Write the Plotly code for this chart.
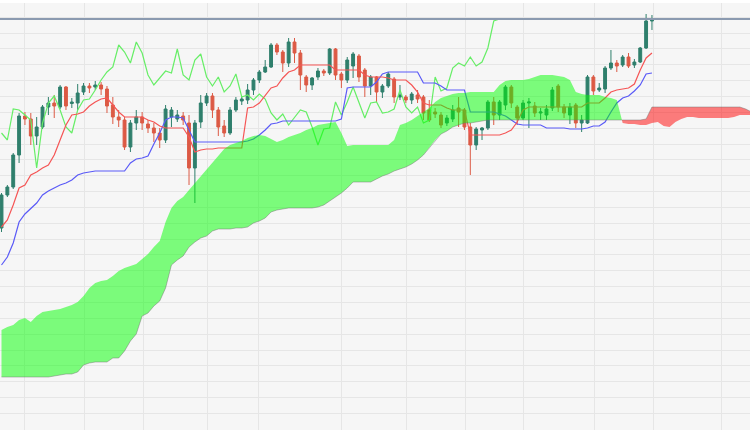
import plotly.graph_objects as go

# ---------------- data (price units) ----------------
idx = list(range(112))

opens = [127.2,130.5,131.3,134.5,138.4,138.1,136.4,137.3,139.3,139.7,
139.3,141.3,139.65,139.7,140.8,141.4,141.3,141.5,141.1,139.5,
138.3,138.0,135.3,137.7,138.3,137.6,137.2,136.7,136.0,138.3,
138.1,138.4,137.7,133.2,137.8,139.7,140.4,139.0,137.4,136.7,
139.0,139.9,140.0,141.0,142.0,142.8,143.3,145.5,144.8,143.7,
145.8,144.7,142.3,141.5,142.3,142.9,142.7,145.1,142.6,142.0,
143.4,144.4,143.0,141.4,142.3,140.8,141.4,142.1,140.3,140.3,
140.0,140.5,140.3,139.0,138.8,138.5,137.7,138.1,139.2,139.0,
137.3,135.5,137.0,137.2,139.8,138.5,139.5,141.3,139.3,138.2,
139.7,139.4,138.7,138.5,139.2,141.4,139.3,138.5,139.5,137.7,
137.7,142.3,141.0,141.1,143.2,143.7,143.5,144.3,143.5,143.8,
145.2,147.9]

highs = [130.7,131.5,134.7,138.7,138.8,138.7,138.3,139.5,140.3,140.5,
141.5,141.4,140.2,141.6,141.7,141.7,141.9,141.8,141.4,140.3,
139.0,138.3,138.0,139.0,138.8,138.0,137.7,137.2,139.5,139.3,
139.0,138.8,138.5,138.0,140.5,140.7,140.7,139.3,138.0,139.3,
140.3,140.4,141.6,142.2,143.0,144.0,145.7,145.7,145.0,146.2,
146.2,145.0,142.5,142.3,143.2,143.1,145.2,145.2,142.8,144.3,
144.8,144.6,143.2,142.5,142.4,141.6,142.8,142.3,141.5,140.5,
140.8,141.0,140.5,140.0,139.2,138.8,138.5,139.5,140.3,139.2,
137.7,137.3,137.3,140.0,140.3,140.0,141.5,141.5,139.5,140.0,
140.2,139.8,139.2,139.5,141.3,141.6,139.6,139.7,139.7,138.5,
142.5,142.5,141.7,143.4,145.0,144.0,144.5,144.7,144.1,145.3,
148.6,148.5]

lows = [126.8,130.3,131.1,133.7,137.5,135.5,135.5,137.1,138.5,138.2,
139.1,139.0,139.2,139.0,140.5,140.7,141.0,140.5,138.7,137.6,
137.3,135.0,134.8,137.0,137.0,136.7,135.8,135.2,135.7,137.3,
137.8,137.5,131.5,129.7,137.2,139.4,138.2,136.4,136.3,136.5,
138.8,139.5,139.6,140.5,141.7,142.7,143.2,144.5,142.8,143.3,
143.7,141.0,140.8,141.0,142.0,142.4,142.5,142.0,141.2,141.7,
142.2,141.8,140.3,140.5,139.8,140.2,141.2,139.7,140.0,139.7,
139.6,139.7,138.0,137.8,138.2,137.2,137.4,137.8,137.3,137.0,
132.5,135.0,136.0,137.0,137.5,138.0,139.0,139.2,137.5,138.0,
137.2,138.3,138.0,138.0,138.9,138.8,138.2,137.6,137.2,136.8,
137.6,140.5,140.8,140.7,143.0,142.8,143.3,143.2,143.2,143.7,
145.1,147.0]

closes = [130.5,131.3,134.5,138.4,138.1,136.4,137.3,139.3,139.7,139.4,
141.3,139.4,139.8,140.7,141.4,141.2,141.5,141.1,139.4,138.3,
138.0,135.3,137.7,138.3,137.7,137.2,136.7,136.0,139.1,139.0,
138.5,138.0,133.2,137.7,139.7,140.4,139.0,137.3,136.7,139.0,
140.0,140.1,141.0,142.0,142.8,143.3,145.5,144.8,143.7,145.8,
144.7,142.5,141.5,142.2,142.9,142.7,145.1,142.5,142.0,144.0,
144.6,142.3,141.4,142.3,140.8,141.4,142.6,140.3,140.5,140.0,
140.6,140.1,138.7,138.0,138.6,137.5,138.2,139.0,138.8,137.3,
135.5,137.1,137.2,139.8,138.5,139.8,141.3,139.7,138.2,139.7,
139.8,138.7,138.8,139.1,141.0,139.3,138.7,139.3,137.7,138.0,
142.3,140.9,141.2,143.2,143.7,143.4,144.3,143.4,143.8,145.2,
147.9,148.1]

tenkan = [127.3,128.0,129.5,131.2,131.5,132.5,132.8,133.2,133.5,134.5,
136.0,137.5,138.5,138.6,138.8,139.4,139.8,140.1,140.2,139.5,
138.8,138.3,138.3,138.3,138.3,138.0,137.8,137.4,137.2,137.2,
137.2,137.2,136.3,134.8,135.0,135.1,135.1,135.2,135.2,135.2,
135.2,135.2,139.2,139.3,139.7,140.4,141.2,141.4,142.2,142.8,
143.0,143.5,143.5,143.5,143.5,143.5,143.5,143.0,143.0,143.0,
143.0,143.0,142.5,142.3,142.3,142.3,142.2,142.0,142.0,142.0,
141.5,140.8,139.7,139.5,139.5,139.5,139.2,139.0,139.0,139.0,
136.5,136.5,136.5,136.5,136.5,136.5,136.7,137.0,137.8,139.0,
139.3,139.3,139.3,139.3,139.3,139.3,139.3,139.3,139.3,139.3,
139.7,139.7,139.7,140.2,140.8,141.0,141.1,141.2,141.6,143.0,
144.2,144.7]

kijun = [123.5,124.3,125.7,127.8,128.6,129.2,129.7,130.5,130.9,131.2,
131.5,131.7,132.0,132.5,132.7,132.8,132.9,132.9,132.9,132.9,
132.9,132.9,133.7,134.1,134.2,134.4,135.6,136.7,138.0,138.3,
138.3,138.2,137.0,135.8,135.8,135.8,135.8,135.8,135.8,135.8,
135.8,135.8,135.9,136.1,136.5,137.0,137.6,137.7,137.9,137.9,
137.9,137.9,137.9,137.9,137.9,137.9,137.9,137.9,138.1,141.2,
141.3,141.3,141.3,141.3,141.8,142.6,142.8,142.8,142.8,142.8,
142.8,142.8,141.7,141.7,141.7,141.4,141.0,141.0,141.0,141.0,
138.8,138.8,138.8,138.8,138.8,138.6,138.4,138.0,137.6,137.5,
137.5,137.5,137.5,137.2,137.2,137.2,137.2,137.1,137.1,137.1,
137.2,137.4,137.4,137.8,138.8,139.7,140.2,140.4,140.9,141.5,
142.6,142.7]

cloud_idx = list(range(129))

span_a = [117.0,117.3,117.5,118.0,118.2,117.8,118.4,118.8,118.9,119.0,
119.1,119.3,119.5,119.8,120.4,121.2,121.7,121.9,122.0,122.4,
122.9,123.2,123.4,123.6,124.1,124.6,125.3,125.9,127.8,129.2,
129.9,130.3,131.0,131.7,132.3,133.0,133.7,134.4,135.1,135.5,
135.7,135.9,136.2,136.4,136.5,136.4,136.1,135.8,136.0,136.3,
136.5,136.7,137.0,137.2,137.5,137.6,137.7,137.8,136.7,135.4,
135.5,135.5,135.5,135.5,135.5,135.5,135.5,136.0,137.5,137.7,
138.0,138.4,138.8,139.2,139.8,140.2,140.4,140.6,140.7,140.7,
140.8,140.8,140.8,140.8,140.8,141.5,141.9,142.0,142.0,142.0,
142.1,142.3,142.5,142.5,142.5,142.4,142.3,142.0,140.8,140.6,
140.5,140.5,140.5,140.3,140.2,140.0,137.7,137.6,137.6,137.5,
137.5,137.7,137.8,137.4,137.3,137.8,138.1,138.3,138.3,138.2,
138.2,138.2,138.2,138.2,138.2,138.3,138.5,138.5,138.5]

span_b = [112.3,112.3,112.3,112.3,112.3,112.3,112.3,112.3,112.3,112.4,
112.5,112.6,112.6,112.8,113.5,113.7,113.8,113.8,113.8,114.2,
114.2,114.9,115.9,116.6,118.4,118.7,119.4,119.9,121.2,123.5,
124.0,124.4,125.3,125.8,126.2,126.4,126.9,127.1,127.1,127.1,
127.2,127.2,127.3,127.7,127.9,128.2,128.8,129.0,129.1,129.2,
129.2,129.2,129.2,129.2,129.3,129.5,129.9,130.3,130.7,131.2,
131.8,131.8,131.8,131.8,132.1,132.4,132.6,132.9,133.1,133.3,
133.6,134.0,134.5,135.2,136.0,136.6,136.9,137.3,137.5,137.7,
137.7,137.8,137.9,138.0,138.0,138.0,138.0,138.0,138.0,138.0,
138.0,138.0,138.0,138.0,138.0,138.0,138.0,138.0,138.0,138.0,
138.0,138.0,138.0,138.0,138.0,138.0,138.0,138.0,138.0,138.0,
138.1,139.3,139.3,139.3,139.3,139.3,139.3,139.3,139.3,139.3,
139.3,139.3,139.3,139.3,139.3,139.3,139.3,139.1,138.8]

CHIKOU_SHIFT = 26
grid_x = [3.84, 14.08, 24.15, 35.07, 43.94, 57.94, 69.03, 79.1, 89.16, 101.11, 111.18, 122.95]

# ---------------- styles ----------------
UP = "#2f7f6c"
DN = "#dc5a45"
BG = "#f6f6f6"
GRID = "#e6e6e6"

fig = go.Figure()

fig.add_trace(go.Candlestick(
    x=idx, open=opens, high=highs, low=lows, close=closes,
    increasing=dict(line=dict(color=UP, width=1), fillcolor=UP),
    decreasing=dict(line=dict(color=DN, width=1), fillcolor=DN),
    whiskerwidth=0, hoverinfo="skip", showlegend=False))

# chikou span: closes drawn 26 periods back
fig.add_trace(go.Scatter(x=idx[:len(idx) - CHIKOU_SHIFT], y=closes[CHIKOU_SHIFT:],
                         mode="lines", line=dict(color="#66ee66", width=1.2), hoverinfo="skip"))
fig.add_trace(go.Scatter(x=idx, y=kijun, mode="lines",
                         line=dict(color="#5a5af7", width=1.2), hoverinfo="skip"))
fig.add_trace(go.Scatter(x=idx, y=tenkan, mode="lines",
                         line=dict(color="#f55555", width=1.2), hoverinfo="skip"))


def cloud_segments(xs, a, b):
    segs = []
    cur_x, cur_a, cur_b = [xs[0]], [a[0]], [b[0]]
    sign = a[0] >= b[0]
    for k in range(1, len(xs)):
        s = a[k] >= b[k]
        if s != sign:
            d0 = a[k - 1] - b[k - 1]
            d1 = a[k] - b[k]
            t = d0 / (d0 - d1)
            xc = xs[k - 1] + t * (xs[k] - xs[k - 1])
            yc = a[k - 1] + t * (a[k] - a[k - 1])
            cur_x.append(xc); cur_a.append(yc); cur_b.append(yc)
            segs.append((sign, cur_x, cur_a, cur_b))
            cur_x, cur_a, cur_b = [xc], [yc], [yc]
            sign = s
        cur_x.append(xs[k]); cur_a.append(a[k]); cur_b.append(b[k])
    segs.append((sign, cur_x, cur_a, cur_b))
    return segs


for bull, sx, sa, sb in cloud_segments(cloud_idx, span_a, span_b):
    fig.add_trace(go.Scatter(
        x=sx + sx[::-1], y=sa + sb[::-1], mode="lines", fill="toself",
        fillcolor="rgba(0,255,0,0.5)" if bull else "rgba(255,0,0,0.5)",
        line=dict(width=0), hoverinfo="skip"))

fig.add_trace(go.Scatter(x=cloud_idx, y=span_b, mode="lines",
                         line=dict(color="rgba(110,110,110,0.45)", width=1), hoverinfo="skip"))

fig.add_hline(y=closes[-1], line=dict(color="#8b9ab0", width=2))

fig.add_shape(type="rect", xref="paper", yref="paper", x0=0, x1=1, y0=0.993, y1=1,
              fillcolor="white", line=dict(width=0), layer="above")

fig.update_layout(
    width=750, height=430, margin=dict(l=0, r=0, t=0, b=0),
    paper_bgcolor=BG, plot_bgcolor=BG, showlegend=False,
    xaxis=dict(range=[-0.256, 127.73], tickvals=grid_x, showticklabels=False,
               showgrid=True, gridcolor=GRID, gridwidth=1, zeroline=False,
               rangeslider=dict(visible=False), fixedrange=True),
    yaxis=dict(range=[107, 150], tick0=148.28, dtick=1.585, showticklabels=False,
               showgrid=True, gridcolor=GRID, gridwidth=1, zeroline=False, fixedrange=True),
)

fig.write_html("out.html", config={"displayModeBar": False},
               post_script="document.body.style.margin='0';document.body.style.padding='0';")
